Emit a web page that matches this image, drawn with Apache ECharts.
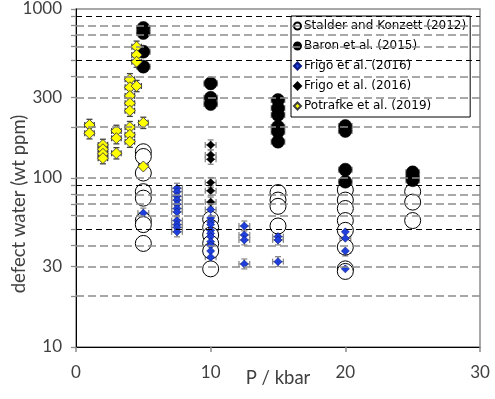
<!DOCTYPE html>
<html>
<head>
<meta charset="utf-8">
<script src="https://cdn.jsdelivr.net/npm/echarts@6/dist/echarts.min.js"></script>
<style>
html, body { margin: 0; padding: 0; background: #fff; }
#chart { width: 495px; height: 399px; }
</style>
</head>
<body>
<div id="chart"></div>
<script>
// data: P (kbar) and defect water (wt ppm)
var stalderP = [5, 5, 5, 5, 5, 5, 5, 5, 10, 10, 10, 10, 10, 10, 15, 15, 15, 15, 20, 20, 20, 20, 20, 20, 20, 20, 25, 25, 25];
var stalderW = [143, 134, 107, 83, 76, 56, 53, 41, 57, 51, 46, 41, 37, 29, 82, 74, 68, 52, 85, 74, 66, 56, 49, 39, 29, 28, 83, 72, 56];

var baronP = [5, 5, 5, 5, 10, 10, 10, 15, 15, 15, 15, 15, 15, 20, 20, 20, 20, 25, 25, 25];
var baronW = [772, 721, 559, 456, 363, 298, 274, 289, 259, 236, 201, 188, 164, 203, 190, 112, 95, 108, 102, 97];

var frigoBlueP = [5, 7.5, 7.5, 7.5, 7.5, 7.5, 7.5, 7.5, 7.5, 7.5, 7.5, 7.5,
  10, 10, 10, 10, 10, 10, 10, 10, 10, 10, 10, 12.5, 12.5, 12.5, 12.5, 15, 15, 15, 20, 20, 20, 20];
var frigoBlueW = [62, 87, 83, 78, 74, 70, 66, 63, 56, 53, 51, 48,
  65, 58, 55, 53, 49, 47, 45, 42, 40, 37, 34, 52, 46, 43, 31, 45, 43, 32, 48, 44, 37, 29];

var frigoBlackP = [10, 10, 10, 10, 10, 10];
var frigoBlackW = [157, 137, 129, 94, 84, 72];

var potrafkeP = [1, 1, 2, 2, 2, 2, 3, 3, 3, 4, 4, 4, 4, 4, 4, 4, 4, 4.5, 4.5, 4.5, 4.5, 5, 5];
var potrafkeW = [206, 184, 157, 148, 139, 131, 190, 172, 140, 384, 344, 306, 277, 250, 200, 180, 164, 598, 534, 488, 350, 212, 117];

// error bars (kbar, relative)
var baronErr = [0.5, 0.08];
var frigoErr = [0.4, 0.07];
var potrafkeErr = [0.35, 0.08];

var seriesNames = ['Stalder and Konzett (2012)', 'Baron et al. (2015)', 'Frigo et al. (2016)', 'Frigo et al. (2016) ', 'Potrafke et al. (2019)'];

var yLabels = [10, 30, 100, 300, 1000];
var yTicks = [10, 20, 30, 40, 50, 60, 70, 80, 90, 100, 200, 300, 400, 500, 600, 700, 800, 900, 1000];
var grayLines = [20, 30, 40, 60, 70, 80, 100, 200, 300, 400, 600, 700, 800];
var blackLines = [50, 90, 500, 900];

function pairs(xs, ys) {
  return xs.map(function (x, i) { return [x, ys[i]]; });
}

function errorSeries(xs, ys, err, color) {
  return {
    type: 'custom',
    silent: true,
    data: pairs(xs, ys),
    renderItem: function (params, api) {
      var x = api.value(0), y = api.value(1);
      var top = api.coord([x, y * (1 + err[1])]);
      var bot = api.coord([x, y / (1 + err[1])]);
      var lft = api.coord([x - err[0], y]);
      var rgt = api.coord([x + err[0], y]);
      var c = 3;
      var st = { stroke: color, lineWidth: 1.3 };
      return {
        type: 'group',
        children: [
          { type: 'line', shape: { x1: top[0], y1: top[1], x2: bot[0], y2: bot[1] }, style: st },
          { type: 'line', shape: { x1: top[0] - c, y1: top[1], x2: top[0] + c, y2: top[1] }, style: st },
          { type: 'line', shape: { x1: bot[0] - c, y1: bot[1], x2: bot[0] + c, y2: bot[1] }, style: st },
          { type: 'line', shape: { x1: lft[0], y1: lft[1], x2: rgt[0], y2: rgt[1] }, style: st },
          { type: 'line', shape: { x1: lft[0], y1: lft[1] - c, x2: lft[0], y2: lft[1] + c }, style: st },
          { type: 'line', shape: { x1: rgt[0], y1: rgt[1] - c, x2: rgt[0], y2: rgt[1] + c }, style: st }
        ]
      };
    }
  };
}

var gridMarks = grayLines.map(function (v) {
  return { yAxis: v, lineStyle: { color: '#8c8c8c', width: 1.6, type: [8, 4] } };
}).concat(blackLines.map(function (v) {
  return { yAxis: v, lineStyle: { color: '#000', width: 1, type: [6, 4] } };
}));

var myChart = echarts.init(document.getElementById('chart'));
var labelFont = 'Lato, "DejaVu Sans", sans-serif';

var option = {
  animation: false,
  backgroundColor: '#fff',
  grid: {
    left: 76, right: 15, top: 9, bottom: 52,
    outerBoundsMode: 'none', containLabel: false,
    show: true, borderColor: '#8c8c8c', borderWidth: 1.5, backgroundColor: 'transparent'
  },
  legend: {
    data: seriesNames,
    orient: 'vertical',
    left: 291, top: 16,
    padding: [4, 4, 5, 2],
    itemGap: 8,
    itemWidth: 7, itemHeight: 7,
    backgroundColor: '#fff',
    borderColor: '#000', borderWidth: 1, borderRadius: 0,
    selectedMode: false,
    textStyle: { fontFamily: '"DejaVu Sans", Verdana, sans-serif', fontSize: 12, color: '#000', padding: [0, 0, 0, -2] }
  },
  xAxis: {
    type: 'value', min: 0, max: 30, interval: 10,
    name: 'P / kbar', nameLocation: 'middle', nameGap: 22, nameMoveOverlap: false,
    nameTextStyle: { fontFamily: labelFont, fontSize: 18.5, color: '#404040' },
    axisLine: { lineStyle: { color: '#000', width: 1 } },
    axisTick: { show: true, inside: false, length: 5, lineStyle: { color: '#8c8c8c', width: 1.5 } },
    axisLabel: { margin: 17, fontFamily: labelFont, fontSize: 17, color: '#404040' },
    splitLine: { show: false }
  },
  yAxis: {
    type: 'log', logBase: 10, min: 10, max: 1000,
    name: 'defect water (wt ppm)', nameLocation: 'middle', nameGap: 47, nameMoveOverlap: false,
    nameTextStyle: { fontFamily: labelFont, fontSize: 18.5, color: '#404040', padding: [0, 52, 0, 0] },
    axisLine: { show: true, lineStyle: { color: '#000', width: 1 } },
    axisTick: { show: true, inside: false, length: 5, customValues: yTicks, lineStyle: { color: '#8c8c8c', width: 1.3 } },
    axisLabel: {
      margin: 14, customValues: yLabels, fontFamily: labelFont, fontSize: 17, color: '#404040',
      formatter: function (v) { return String(Math.round(v)); }
    },
    splitLine: { show: false },
    minorTick: { show: false }
  },
  series: [
    {
      type: 'scatter', data: [], silent: true, z: 1,
      markLine: { silent: true, symbol: 'none', label: { show: false }, animation: false, data: gridMarks }
    },
    {
      name: seriesNames[0], type: 'scatter', symbol: 'circle', symbolSize: 16,
      itemStyle: { color: '#fff', borderColor: '#000', borderWidth: 1, opacity: 1 },
      data: pairs(stalderP, stalderW)
    },
    errorSeries(baronP, baronW, baronErr, '#8c8c8c'),
    {
      name: seriesNames[1], type: 'scatter', symbol: 'circle', symbolSize: 13,
      itemStyle: { color: '#000', borderColor: '#000', borderWidth: 0.5, opacity: 1 },
      data: pairs(baronP, baronW)
    },
    errorSeries(frigoBlueP, frigoBlueW, frigoErr, '#8c8c8c'),
    {
      name: seriesNames[2], type: 'scatter', symbol: 'diamond', symbolSize: 8,
      itemStyle: { color: '#1f3fdc', borderColor: '#0a1a80', borderWidth: 0.6, opacity: 1 },
      data: pairs(frigoBlueP, frigoBlueW)
    },
    errorSeries(frigoBlackP, frigoBlackW, frigoErr, '#8c8c8c'),
    {
      name: seriesNames[3], type: 'scatter', symbol: 'diamond', symbolSize: 8,
      itemStyle: { color: '#000', borderColor: '#000', borderWidth: 0.5, opacity: 1 },
      data: pairs(frigoBlackP, frigoBlackW)
    },
    errorSeries(potrafkeP, potrafkeW, potrafkeErr, '#404040'),
    {
      name: seriesNames[4], type: 'scatter', symbol: 'diamond', symbolSize: 11,
      itemStyle: { color: '#ffff00', borderColor: '#404040', borderWidth: 0.9, opacity: 1 },
      data: pairs(potrafkeP, potrafkeW)
    }
  ]
};

myChart.setOption(option);
</script>
</body>
</html>
